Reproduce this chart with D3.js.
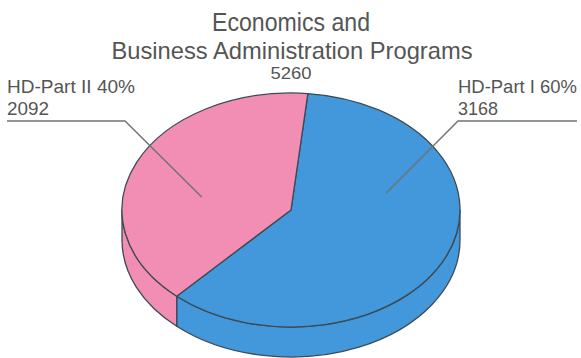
<!DOCTYPE html>
<html>
<head>
<meta charset="utf-8">
<script src="https://cdn.jsdelivr.net/npm/d3@7"></script>
<style>
  body { margin: 0; background: #fff; }
  text { font-family: "Liberation Sans Narrow", "Arial Narrow", "Liberation Sans", Arial, sans-serif; fill: #555; }
</style>
</head>
<body>
<div id="chart"></div>
<script>
// data
var titleLines = ["Economics and", "Business Administration Programs"];
var total = 5260;
var programs = ["HD-Part I", "HD-Part II"];
var counts = [3168, 2092];
var shares = [60, 40];

var width = 581, height = 358;

// ellipse of the tilted pie
var cx = 291, cy = 210, rx = 169, ry = 117, depth = 30;

var colors = d3.scaleOrdinal().domain(programs).range(["#4298da", "#f28db3"]);

var svg = d3.select("#chart").append("svg")
  .attr("width", width)
  .attr("height", height);

var slices = programs.map(function(p, i) {
  return { name: p, value: counts[i], share: shares[i] };
});

var pie = d3.pie()
  .value(function(d) { return d.value; })
  .sort(null)
  .startAngle(0.1)
  .endAngle(0.1 + 2 * Math.PI);

var arcs = pie(slices);

// point on the top ellipse, angle clockwise from 12 o'clock
function px(a, f) { return cx + rx * (f == null ? 1 : f) * Math.sin(a); }
function py(a, f) { return cy - ry * (f == null ? 1 : f) * Math.cos(a); }

function topPath(d) {
  var large = (d.endAngle - d.startAngle) > Math.PI ? 1 : 0;
  return "M" + cx + "," + cy +
    "L" + px(d.startAngle) + "," + py(d.startAngle) +
    "A" + rx + "," + ry + " 0 " + large + " 1 " + px(d.endAngle) + "," + py(d.endAngle) + "Z";
}

// side wall, only the front half (between 90 and 270 degrees) is visible
function sidePath(d) {
  var lo = Math.PI / 2, hi = 3 * Math.PI / 2;
  var s = d.startAngle, e = d.endAngle;
  var best = null;
  [-2 * Math.PI, 0, 2 * Math.PI].forEach(function(k) {
    var a0 = Math.max(s + k, lo), a1 = Math.min(e + k, hi);
    if (a1 > a0) best = [a0, a1];
  });
  if (!best) return null;
  var a0 = best[0], a1 = best[1];
  return "M" + px(a0) + "," + py(a0) +
    "A" + rx + "," + ry + " 0 0 1 " + px(a1) + "," + py(a1) +
    "L" + px(a1) + "," + (py(a1) + depth) +
    "A" + rx + "," + ry + " 0 0 0 " + px(a0) + "," + (py(a0) + depth) + "Z";
}

// sides
svg.selectAll(".side")
  .data(arcs)
  .enter().append("path")
  .attr("class", "side")
  .attr("d", sidePath)
  .attr("fill", function(d) { return colors(d.data.name); })
  .attr("stroke", "#3c4a55")
  .attr("stroke-width", 1.3)
  .attr("stroke-linejoin", "round");

// tops
svg.selectAll(".top")
  .data(arcs)
  .enter().append("path")
  .attr("class", "top")
  .attr("d", topPath)
  .attr("fill", function(d) { return colors(d.data.name); })
  .attr("stroke", "#3c4a55")
  .attr("stroke-width", 1.3)
  .attr("stroke-linejoin", "round");

// titles
var title = svg.append("g");
title.append("text")
  .attr("x", cx).attr("y", 31)
  .attr("text-anchor", "middle")
  .style("font-size", "25px")
  .attr("textLength", 158).attr("lengthAdjust", "spacingAndGlyphs")
  .text(titleLines[0]);
title.append("text")
  .attr("x", cx + 1).attr("y", 59)
  .attr("text-anchor", "middle")
  .style("font-size", "24px")
  .attr("textLength", 361).attr("lengthAdjust", "spacingAndGlyphs")
  .text(titleLines[1]);
title.append("text")
  .attr("x", cx).attr("y", 79)
  .attr("text-anchor", "middle")
  .style("font-size", "17px")
  .attr("textLength", 41).attr("lengthAdjust", "spacingAndGlyphs")
  .text(total);

// labels with leader lines
var labelLayout = [
  { x: 458, lineEnd: 577, elbow: 458, anchorAngle: 1.32, anchorR: 0.58, nameLen: 119, numLen: 40 },
  { x: 7, lineEnd: 7, elbow: 125, anchorAngle: 4.92, anchorR: 0.54, nameLen: 128, numLen: 42 }
];
var lineY = 121;

arcs.forEach(function(d, i) {
  var L = labelLayout[i];
  svg.append("text")
    .attr("x", L.x).attr("y", 93)
    .style("font-size", "19px")
    .attr("textLength", L.nameLen).attr("lengthAdjust", "spacingAndGlyphs")
    .text(d.data.name + " " + d.data.share + "%");
  svg.append("text")
    .attr("x", L.x).attr("y", 115)
    .style("font-size", "19px")
    .attr("textLength", L.numLen).attr("lengthAdjust", "spacingAndGlyphs")
    .text(d.data.value);
  svg.append("polyline")
    .attr("points", [
      [L.lineEnd, lineY],
      [L.elbow, lineY],
      [px(L.anchorAngle, L.anchorR), py(L.anchorAngle, L.anchorR)]
    ].join(" "))
    .attr("fill", "none")
    .attr("stroke", "#6f7470")
    .attr("stroke-width", 1.4);
});
</script>
</body>
</html>
